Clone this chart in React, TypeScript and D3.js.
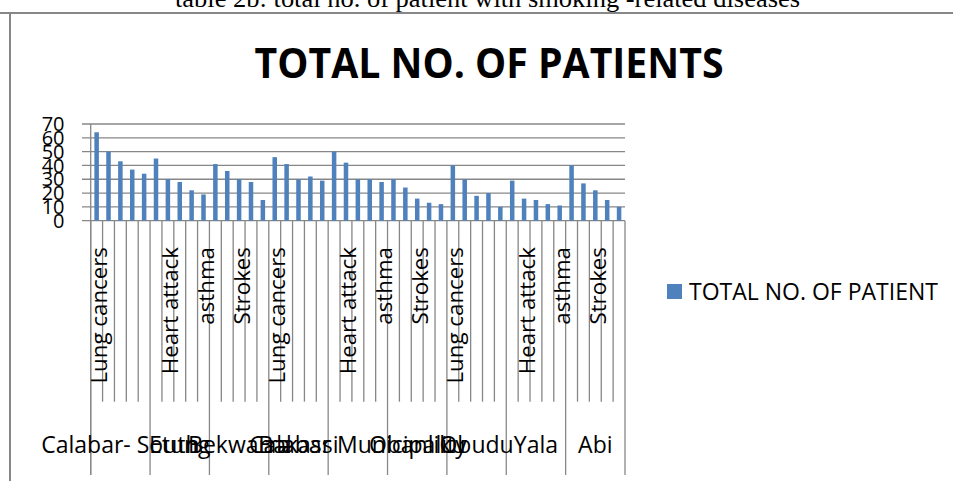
import { useRef, useEffect } from 'react';
import * as d3 from 'd3';

// local government areas (outer category level)
const GROUPS = [
  'Calabar- South',
  'Etung',
  'Bekwarra',
  'Bakassi',
  'Calabar Municipality',
  'Obanliku',
  'Obudu',
  'Yala',
  'Abi',
];

// diseases (inner category level); the 4th one has no visible label
const DISEASES = ['Lung cancers', 'Heart attack', 'Strokes', '', 'asthma'];

// total no. of patients, 5 per group, same order as GROUPS x DISEASES
const PATIENTS = [
  64, 50, 43, 37, 34,
  45, 30, 28, 22, 19,
  41, 36, 30, 28, 15,
  46, 41, 30, 32, 29,
  50, 42, 30, 30, 28,
  30, 24, 16, 13, 12,
  40, 30, 18, 20, 10,
  29, 16, 15, 12, 11,
  40, 27, 22, 15, 10,
];

const Y_TICKS = [0, 10, 20, 30, 40, 50, 60, 70];

const TITLE = 'TOTAL NO. OF PATIENTS';
const SERIES_NAME = 'TOTAL NO. OF PATIENT';
const CAPTION = 'table 2b: total no. of patient with smoking -related diseases';

const FONT = '"Open Sans", sans-serif';
const BAR_COLOR = '#4F81BD';
const LINE_COLOR = '#878787';

export default function App() {
  const svgRef = useRef<SVGSVGElement>(null);

  useEffect(() => {
    if (!svgRef.current) return;

    const svg = d3.select(svgRef.current);
    svg.selectAll('*').remove();

    const plot = { left: 90.7, right: 625, top: 124, bottom: 220.7 };
    const tickShortEnd = 401.7;
    const tickLongEnd = 475;

    const n = GROUPS.length * DISEASES.length;

    // Scales
    const x = d3.scaleBand<number>()
      .domain(d3.range(n))
      .range([plot.left, plot.right])
      .paddingInner(0.62)
      .paddingOuter(0.31);
    const step = x.step();

    const y = d3.scaleLinear()
      .domain([0, 70])
      .range([plot.bottom, plot.top]);

    // Outer frame + caption rule
    svg.append('line')
      .attr('x1', 0).attr('x2', 953)
      .attr('y1', 13).attr('y2', 13)
      .attr('stroke', LINE_COLOR).attr('stroke-width', 2);
    svg.append('line')
      .attr('x1', 10).attr('x2', 10)
      .attr('y1', 13).attr('y2', 481)
      .attr('stroke', LINE_COLOR).attr('stroke-width', 2);

    // Caption (cut at top of the page)
    svg.append('text')
      .attr('x', 175)
      .attr('y', 6.7)
      .attr('textLength', 625)
      .attr('lengthAdjust', 'spacingAndGlyphs')
      .style('font-family', '"Liberation Serif", "Times New Roman", serif')
      .style('font-size', '26px')
      .attr('fill', '#000')
      .text(CAPTION);

    // Title
    svg.append('text')
      .attr('x', 254.5)
      .attr('y', 78)
      .attr('textLength', 469)
      .attr('lengthAdjust', 'spacingAndGlyphs')
      .style('font-family', FONT)
      .style('font-size', '42px')
      .style('font-weight', 700)
      .attr('fill', '#000')
      .text(TITLE);

    // Gridlines + y labels
    Y_TICKS.forEach(t => {
      svg.append('line')
        .attr('x1', 82).attr('x2', plot.right)
        .attr('y1', y(t)).attr('y2', y(t))
        .attr('stroke', LINE_COLOR).attr('stroke-width', 1.3);
      svg.append('text')
        .attr('x', 64.5)
        .attr('y', y(t))
        .attr('dy', '0.36em')
        .attr('text-anchor', 'end')
        .style('font-family', FONT)
        .style('font-size', '20px')
        .attr('fill', '#000')
        .text(t);
    });

    // Vertical axis line
    svg.append('line')
      .attr('x1', plot.left).attr('x2', plot.left)
      .attr('y1', plot.top).attr('y2', tickLongEnd)
      .attr('stroke', LINE_COLOR).attr('stroke-width', 1.3);

    // Category ticks (short for diseases, long for groups)
    d3.range(n + 1).forEach(i => {
      const xi = plot.left + i * step;
      const isGroup = i % DISEASES.length === 0;
      svg.append('line')
        .attr('x1', xi).attr('x2', xi)
        .attr('y1', plot.bottom)
        .attr('y2', isGroup ? tickLongEnd : tickShortEnd)
        .attr('stroke', LINE_COLOR).attr('stroke-width', 1.3);
    });

    // Bars
    svg.append('g')
      .selectAll('rect')
      .data(PATIENTS)
      .join('rect')
      .attr('x', (_, i) => x(i)!)
      .attr('y', d => y(d))
      .attr('width', x.bandwidth())
      .attr('height', d => plot.bottom - y(d))
      .attr('fill', BAR_COLOR);

    // Disease labels, every 3rd category (rotated)
    d3.range(0, n, 3).forEach(i => {
      const label = DISEASES[i % DISEASES.length];
      if (!label) return;
      const cx = x(i)! + x.bandwidth() / 2;
      svg.append('text')
        .attr('transform', `translate(${cx},247) rotate(-90)`)
        .attr('dy', '0.47em')
        .attr('text-anchor', 'end')
        .style('font-family', FONT)
        .style('font-size', '22.3px')
        .attr('fill', '#000')
        .text(label);
    });

    // Group labels
    GROUPS.forEach((g, gi) => {
      const cx = plot.left + (gi + 0.5) * DISEASES.length * step;
      svg.append('text')
        .attr('x', cx)
        .attr('y', 452.7)
        .attr('text-anchor', 'middle')
        .style('font-family', FONT)
        .style('font-size', '23px')
        .attr('fill', '#000')
        .text(g);
    });

    // Legend
    svg.append('rect')
      .attr('x', 667).attr('y', 284)
      .attr('width', 15).attr('height', 15)
      .attr('fill', BAR_COLOR);
    svg.append('text')
      .attr('x', 689)
      .attr('y', 299.5)
      .style('font-family', FONT)
      .style('font-size', '23px')
      .attr('fill', '#000')
      .text(SERIES_NAME);
  }, []);

  return (
    <div style={{ position: 'absolute', left: 0, top: 0, background: '#fff' }}>
      <svg ref={svgRef} width={953} height={481} style={{ display: 'block' }} />
    </div>
  );
}
